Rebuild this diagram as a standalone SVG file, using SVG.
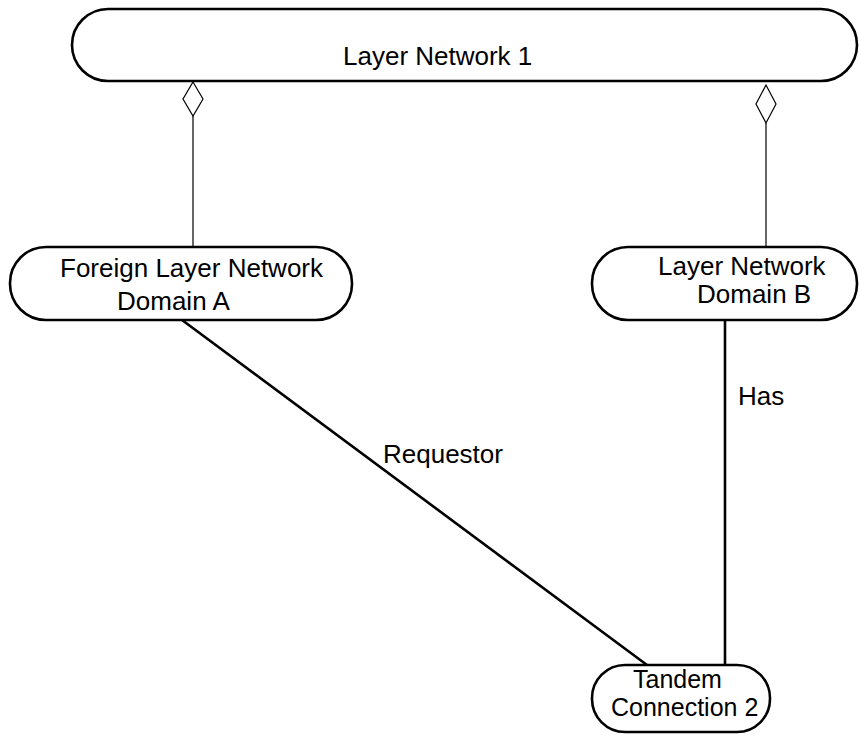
<svg xmlns="http://www.w3.org/2000/svg" width="859" height="735" viewBox="0 0 859 735">
<style>
.node{fill:#fff;stroke:#000;stroke-width:2.6}
.t{font-family:"Liberation Sans",Arial,sans-serif;font-size:26px;fill:#000}
.s{font-size:25px}
.c{stroke:#000;stroke-width:2.6;fill:none}
.a{stroke:#000;stroke-width:1.2;fill:none}
.d{fill:#fff;stroke:#000;stroke-width:1.2}
</style>
<rect width="859" height="735" fill="#fff"/>
<g id="connectors">
<line class="a" x1="193" y1="116" x2="193" y2="247"/>
<polygon class="d" points="193,82 203,99 193,116 183,99"/>
<line class="a" x1="766" y1="123" x2="766" y2="247"/>
<polygon class="d" points="766,85 776,104 766,123 756,104"/>
<line class="c" x1="182" y1="320" x2="647" y2="665"/>
<text class="t" x="383" y="463">Requestor</text>
<line class="c" x1="725" y1="320" x2="725" y2="665"/>
<text class="t" x="738" y="405">Has</text>
</g>
<g id="layer-network-1">
<rect class="node" x="72" y="9" width="785" height="72" rx="36" ry="36"/>
<text class="t" x="343" y="65">Layer Network 1</text>
</g>
<g id="domain-a">
<rect class="node" x="10" y="247" width="342" height="73" rx="36" ry="36"/>
<text class="t" x="60" y="277">Foreign Layer Network</text>
<text class="t" x="117" y="310">Domain A</text>
</g>
<g id="domain-b">
<rect class="node" x="592" y="247" width="265" height="73" rx="36" ry="36"/>
<text class="t" x="658" y="275">Layer Network</text>
<text class="t" x="697" y="303">Domain B</text>
</g>
<g id="tandem-connection-2">
<rect class="node" x="592" y="665" width="178" height="67" rx="33" ry="33"/>
<text class="t s" x="633" y="688">Tandem</text>
<text class="t s" x="611" y="716">Connection 2</text>
</g>
</svg>
